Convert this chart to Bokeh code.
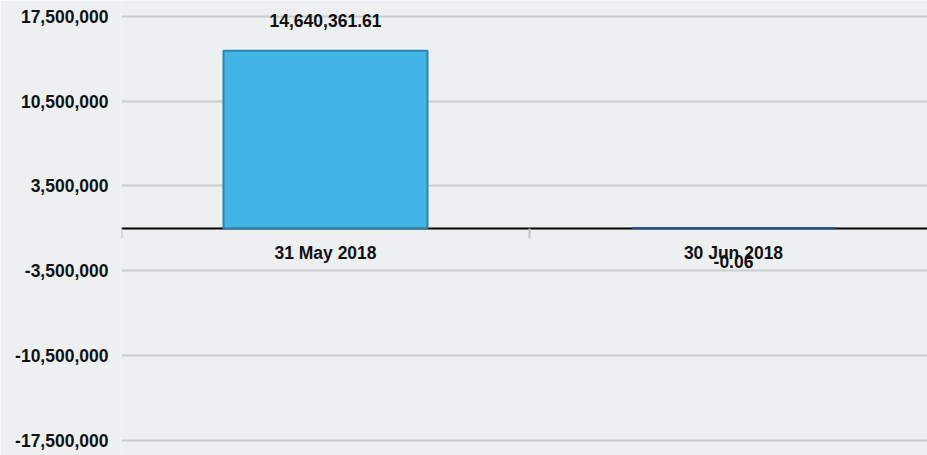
from bokeh.plotting import figure
from bokeh.models import Range1d, FixedTicker, NumeralTickFormatter, ColumnDataSource
from bokeh.core.properties import value
from bokeh.embed import file_html
from bokeh.resources import INLINE

# ---- data ----
categories = ["31 May 2018", "30 Jun 2018"]
values = [14640361.61, -0.06]
value_labels = ["14,640,361.61", "-0.06"]
y_ticks = [-17500000, -10500000, -3500000, 3500000, 10500000, 17500000]

BG = "#ECF0F1"
FONT = "Liberation Sans"

x_pos = [i + 0.5 for i in range(len(categories))]
boundaries = [float(i) for i in range(len(categories) + 1)]
fills = ["#42B4E5" if v >= 0 else "#1F4E8C" for v in values]
lines = ["#2E82AE" if v >= 0 else "#1F4E8C" for v in values]
yoffs = [-30 if v >= 0 else 33 for v in values]

src = ColumnDataSource(dict(x=x_pos, value=values, label=value_labels,
                            fill=fills, line=lines, yoff=yoffs))

p = figure(width=927, height=455, output_backend="svg", toolbar_location=None,
           x_range=Range1d(0, 1.9755), y_range=Range1d(-18737000, 18795000),
           min_border_left=121, min_border_right=0, min_border_top=0,
           min_border_bottom=0)
p.background_fill_color = BG
p.border_fill_color = BG
p.outline_line_color = None

# grid
p.xgrid.visible = False
p.ygrid.ticker = FixedTicker(ticks=y_ticks)
p.ygrid.grid_line_color = "#C9CBCC"
p.ygrid.grid_line_width = 2

# y axis
p.yaxis.ticker = FixedTicker(ticks=y_ticks)
p.yaxis.formatter = NumeralTickFormatter(format="0,0")
p.yaxis.axis_line_color = None
p.yaxis.major_tick_line_color = None
p.yaxis.minor_tick_line_color = None
p.yaxis.major_tick_out = 0
p.yaxis.major_tick_in = 0
p.yaxis.major_label_standoff = 13
p.yaxis.major_label_text_font = FONT
p.yaxis.major_label_text_font_style = "bold"
p.yaxis.major_label_text_font_size = "17.5px"
p.yaxis.major_label_text_color = "#111111"

# x axis at zero
p.xaxis.fixed_location = 0
p.xaxis.ticker = FixedTicker(ticks=x_pos, minor_ticks=boundaries)
p.xaxis.major_label_overrides = {xv: c for xv, c in zip(x_pos, categories)}
p.xaxis.axis_line_color = "#000000"
p.xaxis.axis_line_width = 2
p.xaxis.major_tick_line_color = None
p.xaxis.major_tick_out = 0
p.xaxis.major_tick_in = 0
p.xaxis.minor_tick_line_color = "#BFC1C2"
p.xaxis.minor_tick_line_width = 2
p.xaxis.minor_tick_out = 10
p.xaxis.minor_tick_in = 0
p.xaxis.major_label_standoff = 5
p.xaxis.major_label_text_font = FONT
p.xaxis.major_label_text_font_style = "bold"
p.xaxis.major_label_text_font_size = "17.5px"
p.xaxis.major_label_text_color = "#111111"

# bars
p.vbar(x="x", top="value", bottom=0, width=0.5, fill_color="fill",
       line_color="line", line_width=2, source=src, level="overlay")

# value labels
p.text(x="x", y="value", text="label", y_offset="yoff", text_align="center",
       text_baseline="alphabetic", text_font=value(FONT), text_font_style="bold",
       text_font_size="17.5px", text_color="#111111", source=src, level="overlay")

open("out.html", "w").write(file_html(p, INLINE))
